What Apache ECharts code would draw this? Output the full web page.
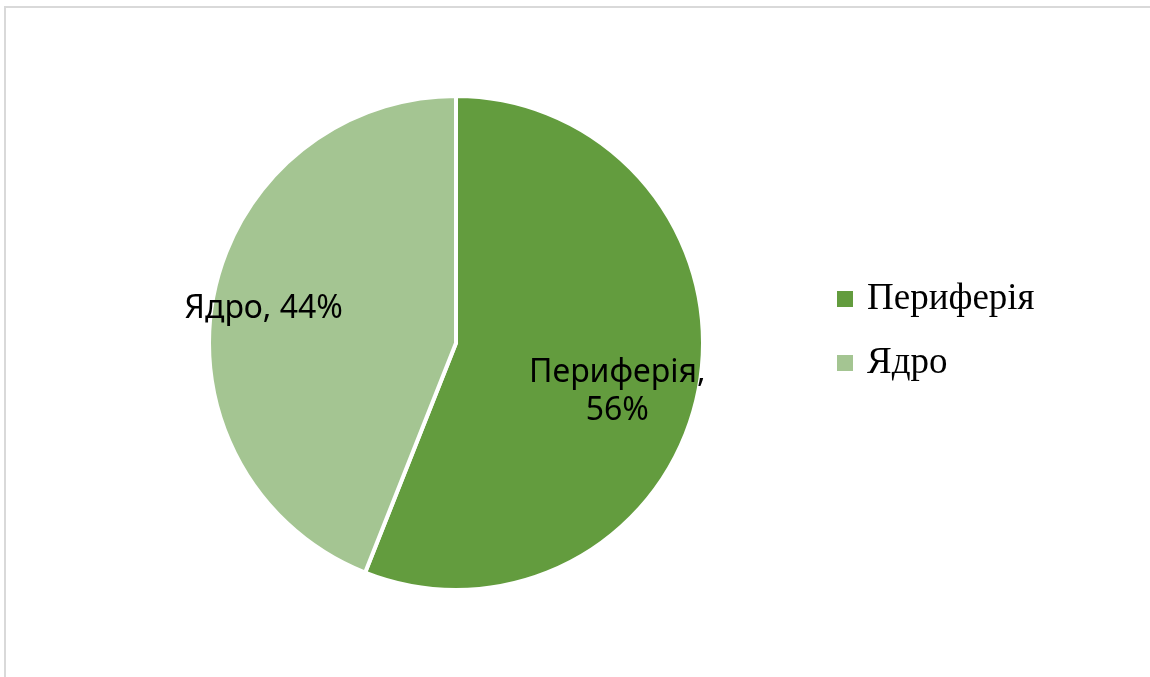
<!DOCTYPE html>
<html>
<head>
<meta charset="utf-8">
<script src="https://cdn.jsdelivr.net/npm/echarts@6/dist/echarts.min.js"></script>
<style>
html,body{margin:0;padding:0;background:#fff;}
#frame{position:absolute;left:4px;top:6px;width:1146px;height:671px;border-top:2px solid #d9d9d9;border-left:2px solid #d9d9d9;box-sizing:border-box;}
#chart{position:absolute;left:0;top:0;width:1150px;height:677px;}
</style>
</head>
<body>
<div id="frame"></div>
<div id="chart"></div>
<script>
const categories = ['Периферія', 'Ядро'];
const values = [56, 44];
const colors = ['#639c3e', '#a4c592'];
const labelTexts = ['Периферія,\n56%', 'Ядро, 44%'];

const chart = echarts.init(document.getElementById('chart'), null, {renderer: 'canvas'});
chart.setOption({
  animation: false,
  color: colors,
  legend: {
    orient: 'vertical',
    left: 830,
    top: 274,
    padding: 5,
    itemWidth: 18,
    itemHeight: 18,
    itemGap: 24,
    icon: 'rect',
    data: categories,
    textStyle: {
      fontFamily: '"Liberation Serif", "Times New Roman", serif',
      fontSize: 37,
      lineHeight: 40,
      color: '#000',
      padding: [0, 0, 0, 8]
    }
  },
  series: [{
    type: 'pie',
    center: [456, 343],
    radius: [0, 247],
    startAngle: 90,
    clockwise: true,
    silent: true,
    itemStyle: {borderColor: '#fff', borderWidth: 4},
    label: {
      show: true,
      position: 'inside',
      fontFamily: '"Noto Sans", sans-serif',
      fontSize: 32,
      lineHeight: 38,
      color: '#000',
      align: 'center',
      formatter: p => labelTexts[p.dataIndex]
    },
    labelLayout: function (params) {
      const offs = [[37, 25], [-68, -10]];
      return {dx: offs[params.dataIndex][0], dy: offs[params.dataIndex][1]};
    },
    data: categories.map((c, i) => ({name: c, value: values[i]}))
  }]
});
</script>
</body>
</html>
